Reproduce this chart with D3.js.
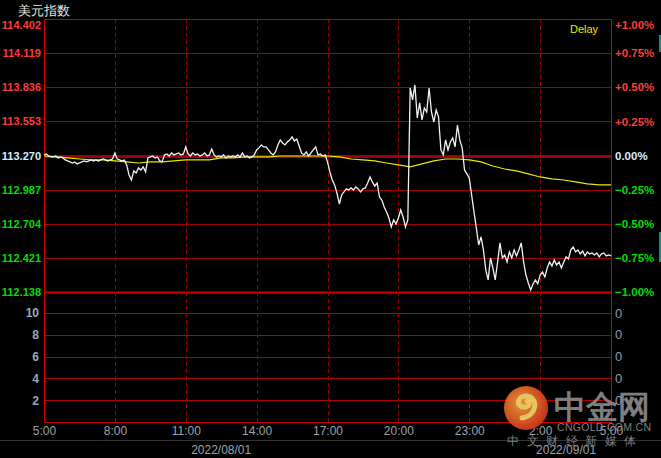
<!DOCTYPE html>
<html>
<head>
<meta charset="utf-8">
<script src="https://cdn.jsdelivr.net/npm/d3@7"></script>
<style>
  html, body { margin: 0; padding: 0; background: #000; }
  #visualization { width: 661px; height: 458px; overflow: hidden; }
  text { font-family: Arial, "Liberation Sans", sans-serif; }
</style>
</head>
<body>
<div id="visualization"></div>
<script>
// Chart values
const title = "美元指数";
const basePrice = 113.270;
const priceTicks = [114.402, 114.119, 113.836, 113.553, 113.270, 112.987, 112.704, 112.421, 112.138];
const pctTicks = [1, 0.75, 0.5, 0.25, 0, -0.25, -0.5, -0.75, -1];
const volTicks = [10, 8, 6, 4, 2];
const timeHours = [0, 3, 6, 9, 12, 15, 18, 21, 24];
const timeLabels = ["5:00", "8:00", "11:00", "14:00", "17:00", "20:00", "23:00", "2:00", "5:00"];
const dateLabels = [{ hour: 7.5, label: "2022/08/01" }, { hour: 22.1, label: "2022/09/01" }];

// price every 6 minutes from 5:00
const prices = [
  113.275,113.283,113.266,113.258,113.258,113.266,113.250,113.258,113.250,113.233,
  113.225,113.217,113.208,113.217,113.200,113.208,113.217,113.225,113.217,113.225,
  113.233,113.225,113.233,113.225,113.233,113.241,113.233,113.225,113.233,113.241,
  113.291,113.241,113.233,113.225,113.233,113.192,113.109,113.067,113.142,113.125,
  113.167,113.150,113.175,113.134,113.250,113.258,113.266,113.250,113.258,113.225,
  113.217,113.275,113.283,113.266,113.291,113.275,113.283,113.291,113.275,113.283,
  113.341,113.283,113.266,113.291,113.275,113.283,113.266,113.275,113.291,113.266,
  113.275,113.324,113.275,113.258,113.266,113.258,113.275,113.250,113.266,113.258,
  113.266,113.258,113.275,113.258,113.291,113.258,113.266,113.250,113.258,113.275,
  113.316,113.333,113.358,113.341,113.341,113.316,113.291,113.275,113.299,113.358,
  113.399,113.374,113.358,113.382,113.399,113.424,113.391,113.407,113.349,113.291,
  113.275,113.299,113.266,113.291,113.316,113.341,113.275,113.283,113.266,113.275,
  113.217,113.134,113.067,113.026,112.959,112.868,112.943,112.968,112.993,112.984,
  113.001,112.984,113.009,112.993,112.968,112.993,113.001,113.042,113.092,113.051,
  113.017,113.042,112.926,112.901,112.843,112.802,112.752,112.677,112.736,112.702,
  112.752,112.818,112.760,112.677,112.736,113.830,113.731,113.855,113.581,113.706,
  113.565,113.664,113.631,113.830,113.631,113.548,113.648,113.590,113.316,113.275,
  113.399,113.316,113.382,113.416,113.341,113.523,113.399,113.333,113.150,113.117,
  113.084,112.943,112.802,112.669,112.528,112.595,112.487,112.321,112.238,112.420,
  112.337,112.238,112.387,112.545,112.420,112.445,112.387,112.470,112.420,112.487,
  112.437,112.487,112.545,112.387,112.279,112.213,112.155,112.205,112.238,112.205,
  112.279,112.304,112.263,112.337,112.387,112.354,112.404,112.362,112.387,112.337,
  112.387,112.429,112.412,112.487,112.512,112.470,112.487,112.454,112.478,112.437,
  112.470,112.454,112.462,112.445,112.462,112.429,112.454,112.462,112.437,112.445,
  112.437
];

// average price every 30 minutes
const avgPrices = [
  113.266,113.258,113.250,113.241,113.233,113.233,113.225,113.217,113.208,113.217,
  113.217,113.225,113.233,113.233,113.233,113.250,113.250,113.258,113.258,113.258,
  113.266,113.266,113.266,113.266,113.266,113.258,113.241,113.233,113.225,113.208,
  113.192,113.175,113.200,113.225,113.241,113.241,113.233,113.217,113.183,113.158,
  113.142,113.117,113.092,113.076,113.067,113.051,113.034,113.026,113.026
];

const width = 661;
const height = 458;
const plot = { left: 44, right: 611, top: 19, priceBottom: 292, bottom: 422 };

const red = "#ff3a3a", green = "#00dd00", baseBlue = "#d8ecff", gridRed = "#a00000";

const svg = d3.select("#visualization")
    .append("svg")
    .attr("width", width)
    .attr("height", height);

svg.append("rect").attr("width", width).attr("height", height).attr("fill", "#000");

// Scales
const x = d3.scaleLinear().domain([0, 24]).range([plot.left, plot.right]);
const y = d3.scaleLinear().domain([112.138, 114.402]).range([plot.priceBottom, plot.top]);
const yPct = d3.scaleLinear().domain([-1, 1]).range([plot.priceBottom, plot.top]);
const yVol = d3.scaleLinear().domain([0, 10]).range([plot.bottom, 313]);

// Horizontal grid, price pane
svg.append("g")
    .selectAll("line")
    .data(priceTicks.slice(1))
    .enter()
    .append("line")
    .attr("x1", plot.left)
    .attr("x2", plot.right)
    .attr("y1", d => Math.round(y(d)) + 0.5)
    .attr("y2", d => Math.round(y(d)) + 0.5)
    .attr("stroke", d => d === 112.138 ? "#d00000" : gridRed)
    .attr("stroke-width", d => d === basePrice ? 3 : (d === 112.138 ? 2 : 1));

// Horizontal grid, volume pane
svg.append("g")
    .selectAll("line")
    .data(volTicks)
    .enter()
    .append("line")
    .attr("x1", plot.left)
    .attr("x2", plot.right)
    .attr("y1", d => Math.round(yVol(d)) + 0.5)
    .attr("y2", d => Math.round(yVol(d)) + 0.5)
    .attr("stroke", "#b00000");

// Vertical dashed grid
svg.append("g")
    .selectAll("line")
    .data(timeHours.slice(1, -1))
    .enter()
    .append("line")
    .attr("x1", d => Math.round(x(d)) + 0.5)
    .attr("x2", d => Math.round(x(d)) + 0.5)
    .attr("y1", plot.top)
    .attr("y2", plot.bottom)
    .attr("stroke", "#9a0000")
    .attr("stroke-dasharray", "4,3");

// Border
svg.append("path")
    .attr("d", `M${plot.left + 0.5},${plot.bottom + 0.5}V${plot.top + 0.5}H${plot.right + 0.5}V${plot.bottom + 0.5}H${plot.left + 0.5}`)
    .attr("fill", "none")
    .attr("stroke", "#d00000");

// Average line (yellow)
const avgLine = d3.line()
    .x((d, i) => x(i * 0.5))
    .y(d => y(d));

svg.append("path")
    .datum(avgPrices)
    .attr("d", avgLine)
    .attr("fill", "none")
    .attr("stroke", "#e8e800")
    .attr("stroke-width", 1.2);

// Price line (white)
const priceLine = d3.line()
    .x((d, i) => x(i * 0.1))
    .y(d => y(d));

svg.append("path")
    .datum(prices)
    .attr("d", priceLine)
    .attr("fill", "none")
    .attr("stroke", "#f2f2f2")
    .attr("stroke-width", 1.3);

// Left price axis
const leftAxis = svg.append("g")
    .attr("transform", `translate(${plot.left - 3},0)`)
    .call(d3.axisLeft(y).tickValues(priceTicks).tickFormat(d3.format(".3f")).tickSize(0).tickPadding(0));
leftAxis.select(".domain").remove();
leftAxis.selectAll("text")
    .attr("font-size", "11px")
    .attr("font-weight", "bold")
    .attr("y", d => d === 114.402 ? 6 : 0)
    .attr("fill", d => d > basePrice ? red : (d === basePrice ? baseBlue : green));

// Right percent axis
const rightAxis = svg.append("g")
    .attr("transform", `translate(${plot.right + 4},0)`)
    .call(d3.axisRight(yPct).tickValues(pctTicks)
        .tickFormat(d => (d > 0 ? "+" : "") + d3.format(".2f")(d) + "%")
        .tickSize(0).tickPadding(0));
rightAxis.select(".domain").remove();
rightAxis.selectAll("text")
    .attr("font-size", "11.5px")
    .attr("font-weight", "bold")
    .attr("y", d => d === 1 ? 6 : 0)
    .attr("fill", d => d > 0 ? red : (d === 0 ? baseBlue : green));

// Volume axes
const volLeft = svg.append("g")
    .attr("transform", `translate(${plot.left - 5},0)`)
    .call(d3.axisLeft(yVol).tickValues(volTicks).tickSize(0).tickPadding(0));
volLeft.select(".domain").remove();
volLeft.selectAll("text")
    .attr("font-size", "12px")
    .attr("font-weight", "bold")
    .attr("fill", "#9aa6b8");

const volRight = svg.append("g")
    .attr("transform", `translate(${plot.right + 4},0)`)
    .call(d3.axisRight(yVol).tickValues(volTicks).tickFormat(() => "0").tickSize(0).tickPadding(0));
volRight.select(".domain").remove();
volRight.selectAll("text")
    .attr("font-size", "13px")
    .attr("fill", "#8e9bb0");

// Time axis
const timeAxis = svg.append("g")
    .attr("transform", `translate(0,${plot.bottom + 4})`)
    .call(d3.axisBottom(x).tickValues(timeHours).tickFormat((d, i) => timeLabels[i]).tickSize(0).tickPadding(0));
timeAxis.select(".domain").remove();
timeAxis.selectAll("text")
    .attr("font-size", "12px")
    .attr("fill", "#9aa3ad");

// Separator and dates
svg.append("line")
    .attr("x1", 0).attr("x2", width)
    .attr("y1", 440.5).attr("y2", 440.5)
    .attr("stroke", "#333");

svg.append("g")
    .selectAll("text")
    .data(dateLabels)
    .enter()
    .append("text")
    .attr("x", d => x(d.hour))
    .attr("y", 454)
    .attr("text-anchor", "middle")
    .attr("font-size", "12px")
    .attr("fill", "#9aa3ad")
    .text(d => d.label);

// Title and delay marker
svg.append("text")
    .attr("x", 18).attr("y", 15)
    .attr("font-size", "13px")
    .attr("font-family", "'Noto Sans CJK SC', sans-serif")
    .attr("fill", "#e6e6e6")
    .text(title);

svg.append("text")
    .attr("x", 570).attr("y", 33)
    .attr("font-size", "11px")
    .attr("font-family", "'Liberation Mono', monospace")
    .attr("fill", "#e8e800")
    .text("Delay");

// Right edge marks
svg.append("rect").attr("x", 659).attr("y", 35).attr("width", 2).attr("height", 17).attr("fill", "#178a8a");
svg.append("rect").attr("x", 659).attr("y", 232).attr("width", 2).attr("height", 30).attr("fill", "#178a8a");

// Watermark
const defs = svg.append("defs");
const grad = defs.append("radialGradient").attr("id", "logoGrad").attr("cx", "40%").attr("cy", "40%").attr("r", "65%");
grad.append("stop").attr("offset", "0%").attr("stop-color", "#f7a23a");
grad.append("stop").attr("offset", "100%").attr("stop-color", "#d3331c");

const wm = svg.append("g").attr("opacity", 0.92);
wm.append("circle").attr("cx", 526).attr("cy", 408).attr("r", 22).attr("fill", "url(#logoGrad)");
wm.append("path")
    .attr("d", "M522,418 C537,416 539,398 527,396 C517,395 515,408 525,407 C531,406 530,401 527,401")
    .attr("fill", "none")
    .attr("stroke", "#fbd56a")
    .attr("stroke-width", 5)
    .attr("stroke-linecap", "round");
wm.append("text")
    .attr("x", 554).attr("y", 418)
    .attr("font-size", "32px")
    .attr("font-weight", "bold")
    .attr("font-family", "'Noto Sans CJK SC', sans-serif")
    .attr("fill", "#8a8a8a")
    .text("中金网");
wm.append("text")
    .attr("x", 557).attr("y", 431)
    .attr("font-size", "10.5px")
    .attr("letter-spacing", "0.3px")
    .attr("fill", "#8a8a8a")
    .text("CNGOLD.COM.CN");
wm.append("text")
    .attr("x", 507).attr("y", 445)
    .attr("font-size", "12px")
    .attr("letter-spacing", "7.5px")
    .attr("font-family", "'Noto Sans CJK SC', sans-serif")
    .attr("fill", "#8a8a8a")
    .text("中文财经新媒体");
</script>
</body>
</html>
